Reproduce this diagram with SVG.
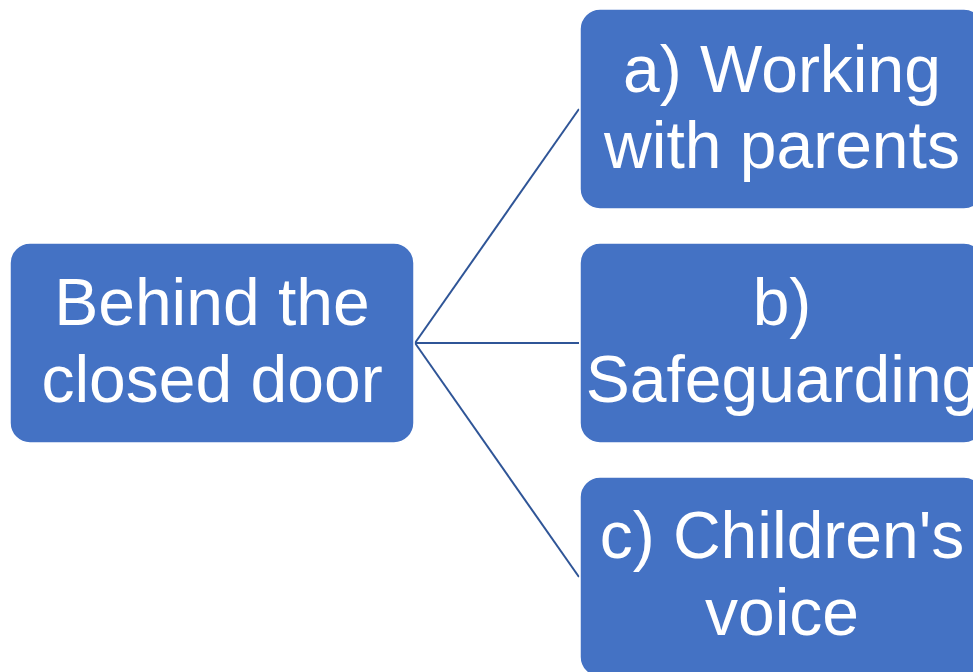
<svg xmlns="http://www.w3.org/2000/svg" width="973" height="672" viewBox="0 0 973 672">
<style>
.box{fill:#4472C4;stroke:#FFFFFF;stroke-width:1.5}
.t{font-family:"Liberation Sans",Arial,sans-serif;font-size:66px;fill:#FFFFFF;text-anchor:middle}
.c{stroke:#2F5597;stroke-width:2;fill:none}
</style>
<rect width="973" height="672" fill="#FFFFFF"/>
<g id="connectors">
<line class="c" x1="415" y1="343" x2="579" y2="109"/>
<line class="c" x1="415" y1="343" x2="579" y2="343"/>
<line class="c" x1="415" y1="343" x2="579" y2="577"/>
</g>
<g id="root">
<rect class="box" x="10" y="243" width="404" height="200" rx="20"/>
<text class="t" x="212" y="325">Behind the</text>
<text class="t" x="212" y="402">closed door</text>
</g>
<g id="node-a">
<rect class="box" x="580" y="9" width="404" height="200" rx="20"/>
<text class="t" x="782" y="92">a) Working</text>
<text class="t" x="782" y="168">with parents</text>
</g>
<g id="node-b">
<rect class="box" x="580" y="243" width="404" height="200" rx="20"/>
<text class="t" x="782" y="325">b)</text>
<text class="t" x="782" y="402">Safeguarding</text>
</g>
<g id="node-c">
<rect class="box" x="580" y="477" width="404" height="200" rx="20"/>
<text class="t" x="782" y="558">c) Children's</text>
<text class="t" x="782" y="635">voice</text>
</g>
</svg>
